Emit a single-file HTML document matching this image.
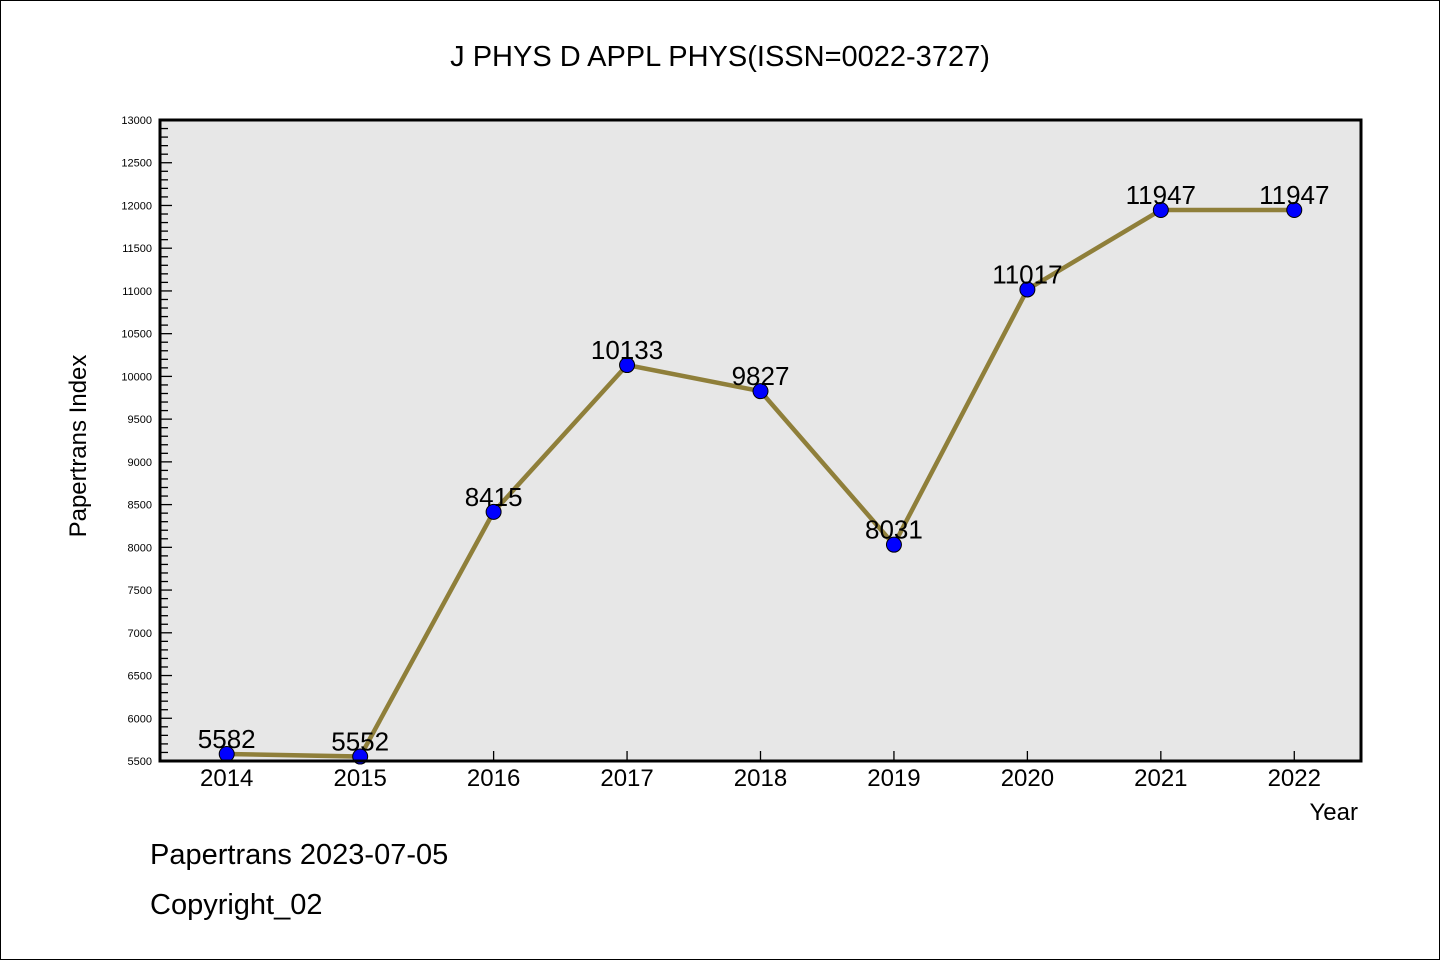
<!DOCTYPE html>
<html><head><meta charset="utf-8"><style>
body{margin:0;background:#fff}
svg{display:block}
text{font-family:"WenQuanYi Zen Hei","Liberation Sans",sans-serif}
</style></head><body>
<svg id="chart" width="1440" height="960" xmlns="http://www.w3.org/2000/svg">
<rect x="0.5" y="0.5" width="1439" height="959" fill="#fff" stroke="#000"/>
<text x="720" y="66" font-size="29" text-anchor="middle">J PHYS D APPL PHYS(ISSN=0022-3727)</text>
<rect x="160" y="120" width="1201" height="641" fill="#e7e7e7"/>
<g id="yaxis"></g>
<g id="xaxis"></g>
<g id="series"></g>
<rect x="160" y="120" width="1201" height="641" fill="none" stroke="#000" stroke-width="3"/>
<text x="86" y="446" font-size="24" text-anchor="middle" transform="rotate(-90 86 446)">Papertrans Index</text>
<text x="1358" y="820" font-size="24" text-anchor="end">Year</text>
<text x="150" y="864" font-size="29">Papertrans 2023-07-05</text>
<text x="150" y="914" font-size="29">Copyright_02</text>
</svg>
<script>
const years=["2014","2015","2016","2017","2018","2019","2020","2021","2022"];
const values=[5582,5552,8415,10133,9827,8031,11017,11947,11947];
const yTicks=[5500,6000,6500,7000,7500,8000,8500,9000,9500,10000,10500,11000,11500,12000,12500,13000];
const NS="http://www.w3.org/2000/svg";
const L=160,R=1361,T=120,B=761,yMin=5500,yMax=13000;
const xs=i=>L+(i+0.5)*(R-L)/years.length;
const ys=v=>B-(v-yMin)/(yMax-yMin)*(B-T);
function mk(tag,attrs,parent){const e=document.createElementNS(NS,tag);for(const k in attrs)e.setAttribute(k,attrs[k]);parent.appendChild(e);return e;}
const ya=document.getElementById('yaxis'),xa=document.getElementById('xaxis'),sg=document.getElementById('series');
for(let v=yMin;v<=yMax;v+=100){
  const major=v%500===0;
  const t=mk('line',{x1:L,x2:L+(major?12:8),y1:ys(v),y2:ys(v),stroke:'#000','stroke-width':1.3},ya);
  
  
}
yTicks.forEach(v=>{
  const t=mk('text',{x:152,y:ys(v)+4,'font-size':11,'text-anchor':'end'},ya);
  t.textContent=v;
  
  
});
years.forEach((y,i)=>{
  const tk=mk('line',{x1:xs(i),x2:xs(i),y1:B,y2:B-10,stroke:'#000','stroke-width':1.3},xa);
  
  
  const t=mk('text',{x:xs(i),y:786,'font-size':24,'text-anchor':'middle'},xa);
  t.textContent=y;
  
  
});
const line=mk('polyline',{points:values.map((v,i)=>xs(i)+','+ys(v)).join(' '),fill:'none',stroke:'#8f7f3a','stroke-width':4.5},sg);


values.forEach((v,i)=>{
  const c=mk('circle',{cx:xs(i),cy:ys(v),r:7.5,fill:'#0000ff',stroke:'#000','stroke-width':1},sg);
  
  
});
values.forEach((v,i)=>{
  const t=mk('text',{x:xs(i),y:ys(v)-6,'font-size':26,'text-anchor':'middle'},sg);
  t.textContent=v;
  
  
});
</script>
</body></html>
